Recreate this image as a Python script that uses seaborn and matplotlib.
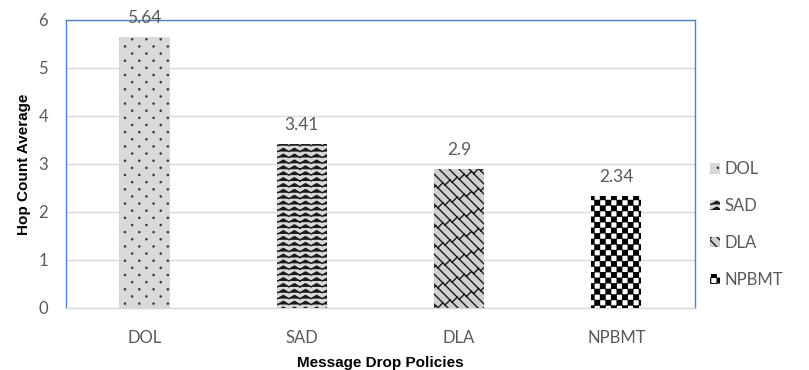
import warnings
import numpy as np
import matplotlib
matplotlib.use("Agg")
import matplotlib.pyplot as plt
import matplotlib.hatch as mhatch
from matplotlib.path import Path
import seaborn as sns

warnings.filterwarnings("ignore")

# ---- data -------------------------------------------------------------
policies = ["DOL", "SAD", "DLA", "NPBMT"]
hop_count = [5.64, 3.41, 2.9, 2.34]
value_labels = ["5.64", "3.41", "2.9", "2.34"]
y_ticks = [0, 1, 2, 3, 4, 5, 6]


# ---- custom hatch patterns --------------------------------------------
def _tile(segments):
    """Repeat segments in the 8 neighbouring tiles so patterns wrap seamlessly."""
    out = []
    for dx in (-1, 0, 1):
        for dy in (-1, 0, 1):
            for seg in segments:
                out.append([(x + dx, y + dy) for x, y in seg])
    return out


class _SegmentHatch(mhatch.HatchPatternBase):
    char = None
    filled = False

    def __init__(self, hatch, density):
        self.count = hatch.count(self.char)
        if self.count:
            self.polys = _tile(self.build())
            n = 0
            for p in self.polys:
                n += len(p) + (1 if self.filled else 0)
            self.num_vertices = n
        else:
            self.num_vertices = 0

    def set_vertices_and_codes(self, vertices, codes):
        i = 0
        for p in self.polys:
            for k, pt in enumerate(p):
                vertices[i] = pt
                codes[i] = Path.MOVETO if k == 0 else Path.LINETO
                i += 1
            if self.filled:
                vertices[i] = p[0]
                codes[i] = Path.CLOSEPOLY
                i += 1


class DotGrid(_SegmentHatch):
    char = "d"
    filled = True

    def build(self):
        rows, cols, r = 14, 7, 0.006
        ang = np.linspace(0, 2 * np.pi, 9)[:-1]
        polys = []
        for i in range(rows):
            y = (i + 0.5) / rows
            off = 0.5 / cols if i % 2 else 0.0
            for j in range(cols):
                x = (j + 0.25) / cols + off
                polys.append([(x + r * np.cos(a), y + r * np.sin(a)) for a in ang])
        return polys


class ZigZag(_SegmentHatch):
    char = "z"

    def build(self):
        rows, periods, amp = 17, 9, 0.016
        polys = []
        for i in range(rows):
            y = (i + 0.5) / rows
            pts = []
            for j in range(2 * periods + 1):
                pts.append((j / (2 * periods), y + (amp if j % 2 else -amp)))
            polys.append(pts)
        return polys


class Bricks(_SegmentHatch):
    char = "b"

    def build(self):
        n, m = 10, 7
        polys = []
        for k in range(n):
            c = k / n
            polys.append([(0.0, 1.0 - c), (1.0, -c)])
            for j in range(m):
                t = j / m + (0.5 / m if k % 2 else 0.0)
                polys.append([(t, 1.0 - (t + c)),
                              (t - 0.5 / n, 1.0 - (t + c + 0.5 / n))])
        return polys


class Checker(_SegmentHatch):
    char = "c"
    filled = True

    def build(self):
        n = 18
        s = 1.0 / n
        e = 0.005  # inset so the stroke does not swell the squares
        polys = []
        for i in range(n):
            for j in range(n):
                if (i + j) % 2 == 0:
                    x, y = j * s, i * s
                    polys.append([(x + e, y + e), (x + s - e, y + e),
                                  (x + s - e, y + s - e), (x + e, y + s - e)])
        return polys


mhatch._hatch_types.extend([DotGrid, ZigZag, Bricks, Checker])

# ---- styling ------------------------------------------------------------
sns.set_theme(style="white")
plt.rcParams["font.family"] = ["Lato", "DejaVu Sans"]
plt.rcParams["hatch.linewidth"] = 1.0

text_grey = "#595959"
grid_grey = "#d9d9d9"
frame_blue = "#4f81c9"

fig = plt.figure(figsize=(8.09, 3.70), dpi=100)
ax = fig.add_axes([0.0816, 0.1676, 0.7774, 0.7784])

sns.barplot(x=policies, y=hop_count, ax=ax, width=0.32, color="#d9d9d9",
            saturation=1, zorder=3)

hatches = ["d", "z", "b", "c"]
faces = ["#d9d9d9", "#d9d9d9", "#d0d0d0", "#ffffff"]
edges = ["#3a3a3a", "#1a1a1a", "#1a1a1a", "#000000"]
for bar, h, fc, ec in zip(ax.patches, hatches, faces, edges):
    bar.set_hatch(h)
    bar.set_facecolor(fc)
    bar.set_edgecolor(ec)
    bar.set_linewidth(0)

for bar, lab in zip(ax.patches, value_labels):
    ax.annotate(lab, (bar.get_x() + bar.get_width() / 2, bar.get_height()),
                xytext=(0, 8), textcoords="offset points",
                ha="center", va="bottom", fontsize=12.5, color=text_grey)

ax.set_ylim(0, 6)
ax.set_yticks(y_ticks)
ax.set_xlim(-0.5, 3.5)
ax.yaxis.grid(True, color=grid_grey, linewidth=1, zorder=0)
ax.set_axisbelow(True)
ax.tick_params(axis="both", length=0, labelsize=12, labelcolor=text_grey)
ax.tick_params(axis="y", pad=13)
ax.tick_params(axis="x", pad=16)

for side in ("left", "top", "right"):
    ax.spines[side].set_color(frame_blue)
    ax.spines[side].set_linewidth(1.0)
ax.spines["bottom"].set_color(grid_grey)
ax.spines["bottom"].set_linewidth(1.0)

label_font = dict(family=["Liberation Sans", "DejaVu Sans"], weight="bold",
                  fontsize=11, color="black")
ax.set_xlabel("Message Drop Policies", labelpad=7, **label_font)
ax.set_ylabel("Hop Count Average", labelpad=5, **label_font)

ax.legend(handles=ax.patches, labels=policies, loc="center left",
          bbox_to_anchor=(1.0, 0.29), frameon=False, fontsize=12,
          labelcolor=text_grey, handlelength=0.6, handleheight=0.6,
          handletextpad=0.3, labelspacing=1.25)

fig.savefig("out.png", dpi=100, facecolor="white")
